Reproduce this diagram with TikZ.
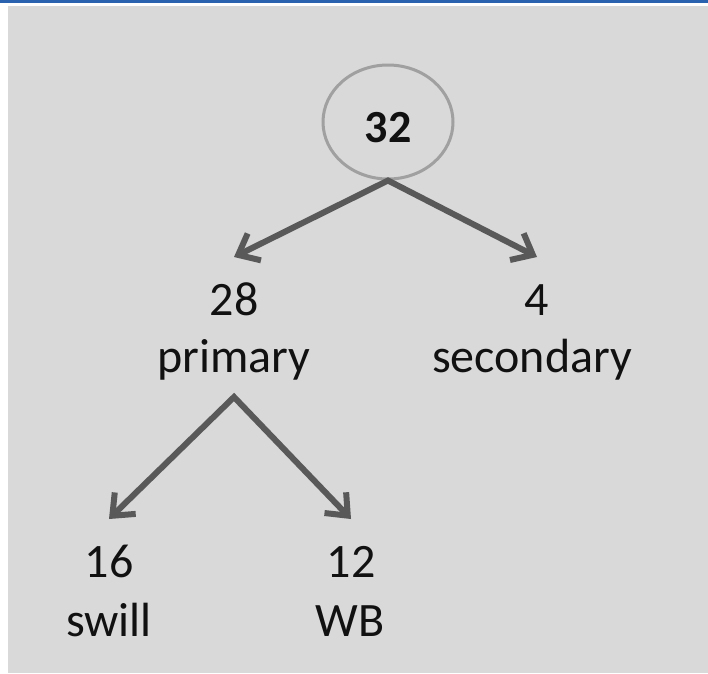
\documentclass[tikz,border=0pt]{standalone}
\usepackage{fontspec}
\setmainfont{Carlito}
\usetikzlibrary{arrows.meta,shapes.geometric}
\definecolor{bggray}{HTML}{D9D9D9}
\definecolor{circgray}{HTML}{A0A0A0}
\definecolor{arrowgray}{HTML}{595959}
\definecolor{topblue}{HTML}{2A62B0}
\definecolor{txtcol}{HTML}{111111}
\begin{document}
\begin{tikzpicture}[x=1pt,y=-1pt,
  txt/.style={font=\fontsize{48}{58}\selectfont, text=txtcol, inner sep=0pt, text height=34pt, text depth=12pt, anchor=base},
  num/.style={txt, outer ysep=24pt},
  lbl/.style={txt, outer ysep=13pt},
  conn/.style={draw=arrowgray, line width=6pt, line join=miter,
    {Straight Barb[length=18pt,width=30pt]}-{Straight Barb[length=18pt,width=30pt]}}]
\useasboundingbox (0,0) rectangle (708,673);
\fill[white] (0,0) rectangle (708,673);
\fill[bggray] (8,6) rectangle (708,673);
\fill[topblue] (0,0) rectangle (708,2.5);

\node[draw=circgray, line width=3pt, ellipse, minimum width=130pt, minimum height=114pt,
  inner sep=0pt, text=txtcol, font=\bfseries\fontsize{46}{58}\selectfont, text height=40pt, text depth=0pt] (root) at (388,122) {32};

\node[num] (n28) at (234,315) {28};
\node[lbl] (primary) at (234,372) {primary};
\node[num] (n4) at (537,315) {4};
\node[lbl] (secondary) at (532,372) {secondary};
\node[num] (n16) at (109,577) {16};
\node[lbl] (swill) at (109,636) {swill};
\node[num] (n12) at (351,577) {12};
\node[lbl] (wb) at (350,636) {WB};

\draw[conn] (n28.north) -- (root.south) -- (n4.north);
\draw[conn] (n16.north) -- (primary.south) -- (n12.north);
\end{tikzpicture}
\end{document}
